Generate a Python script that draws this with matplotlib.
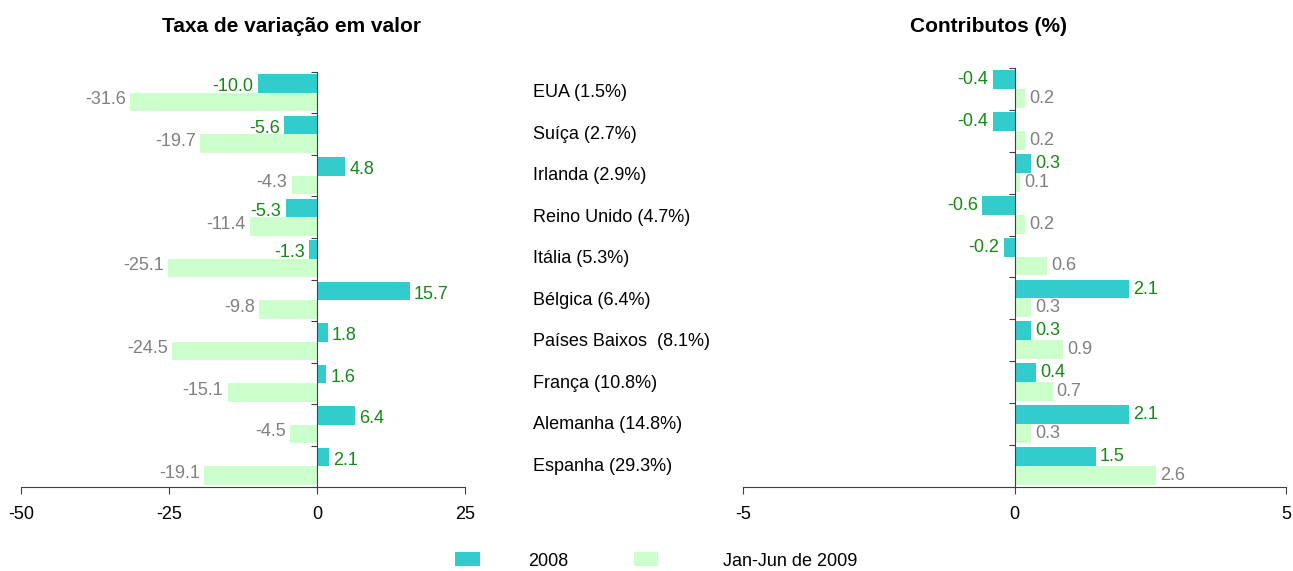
import matplotlib.pyplot as plt
import matplotlib.transforms as mtransforms
from matplotlib.patches import Patch

plt.rcParams["font.family"] = ["Liberation Sans", "DejaVu Sans"]
plt.rcParams["font.size"] = 13
plt.rcParams["axes.unicode_minus"] = False

# categories top to bottom
countries = ["EUA (1.5%)", "Suíça (2.7%)", "Irlanda (2.9%)", "Reino Unido (4.7%)",
             "Itália (5.3%)", "Bélgica (6.4%)", "Países Baixos  (8.1%)",
             "França (10.8%)", "Alemanha (14.8%)", "Espanha (29.3%)"]

taxa_2008 = [-10.0, -5.6, 4.8, -5.3, -1.3, 15.7, 1.8, 1.6, 6.4, 2.1]
taxa_2009 = [-31.6, -19.7, -4.3, -11.4, -25.1, -9.8, -24.5, -15.1, -4.5, -19.1]

contrib_2008 = [-0.4, -0.4, 0.3, -0.6, -0.2, 2.1, 0.3, 0.4, 2.1, 1.5]
contrib_2009 = [0.2, 0.2, 0.1, 0.2, 0.6, 0.3, 0.9, 0.7, 0.3, 2.6]

series_names = ["2008", "Jan-Jun de 2009"]

c2008 = "#33CCCC"
c2009 = "#CCFFCC"
lab2008 = "#138a13"
lab2009 = "#808080"
axis_col = "#404040"

W, H = 1293, 571
fig = plt.figure(figsize=(W / 100, H / 100), dpi=100)


def px_axes(left, right, top, bottom):
    return fig.add_axes([left / W, 1 - bottom / H, (right - left) / W, (bottom - top) / H])


def draw_panel(ax, v1, v2, xlim, xticks, dy1, dy2):
    y = list(range(len(v1)))
    h = 0.45
    off = 0.225
    y1 = [i - off for i in y]
    y2 = [i + off for i in y]
    ax.barh(y1, v1, height=h, color=c2008, zorder=2)
    ax.barh(y2, v2, height=h, color=c2009, zorder=2)
    for yy, v in zip(y1, v1):
        dx = 3 if v >= 0 else -3
        ax.annotate(f"{v:.1f}", (v, yy), xytext=(dx, dy1), textcoords="offset points",
                    ha="left" if v >= 0 else "right", va="center",
                    color=lab2008, fontsize=13)
    for yy, v in zip(y2, v2):
        dx = 3 if v >= 0 else -3
        ax.annotate(f"{v:.1f}", (v, yy), xytext=(dx, dy2), textcoords="offset points",
                    ha="left" if v >= 0 else "right", va="center",
                    color=lab2009, fontsize=13)
    ax.set_xlim(*xlim)
    ax.set_ylim(len(v1) - 0.5, -0.5)
    ax.set_xticks(xticks)
    ax.set_yticks([i - 0.5 for i in range(len(v1) + 1)])
    ax.set_yticklabels([])
    ax.spines["top"].set_visible(False)
    ax.spines["right"].set_visible(False)
    ax.spines["left"].set_position(("data", 0))
    ax.spines["left"].set_color(axis_col)
    ax.spines["bottom"].set_color(axis_col)
    ax.spines["left"].set_zorder(3)
    ax.tick_params(axis="y", length=4, color=axis_col, direction="out")
    ax.tick_params(axis="x", length=5, color=axis_col, direction="out",
                   labelsize=13, pad=9)
    ax.patch.set_visible(False)


ax1 = px_axes(21, 465, 72, 487)
draw_panel(ax1, taxa_2008, taxa_2009, (-50, 25), [-50, -25, 0, 25], -2.5, 1.8)

ax2 = px_axes(743, 1286, 68, 487)
draw_panel(ax2, contrib_2008, contrib_2009, (-5, 5), [-5, 0, 5], 0, 0)

# category names in the middle
trans = mtransforms.blended_transform_factory(fig.transFigure, ax1.transData)
for i, name in enumerate(countries):
    fig.text(533 / W, i, name, transform=trans, ha="left", va="center", fontsize=13)

fig.text(292 / W, 1 - 26 / H, "Taxa de variação em valor", ha="center", va="center",
         fontsize=15, fontweight="bold")
fig.text(988 / W, 1 - 26 / H, "Contributos (%)", ha="center", va="center",
         fontsize=15, fontweight="bold")

# two single-entry legends so each gap can follow the reference
fig.legend([Patch(facecolor=c2008)], [series_names[0]], loc="center left",
           bbox_to_anchor=(455 / W, 1 - 561 / H), frameon=False, fontsize=13,
           handlelength=1.4, handleheight=0.8, handletextpad=2.65,
           borderpad=0, borderaxespad=0)
fig.legend([Patch(facecolor=c2009)], [series_names[1]], loc="center left",
           bbox_to_anchor=(634 / W, 1 - 561 / H), frameon=False, fontsize=13,
           handlelength=1.35, handleheight=0.8, handletextpad=3.6,
           borderpad=0, borderaxespad=0)

fig.savefig("out.png", dpi=100)
